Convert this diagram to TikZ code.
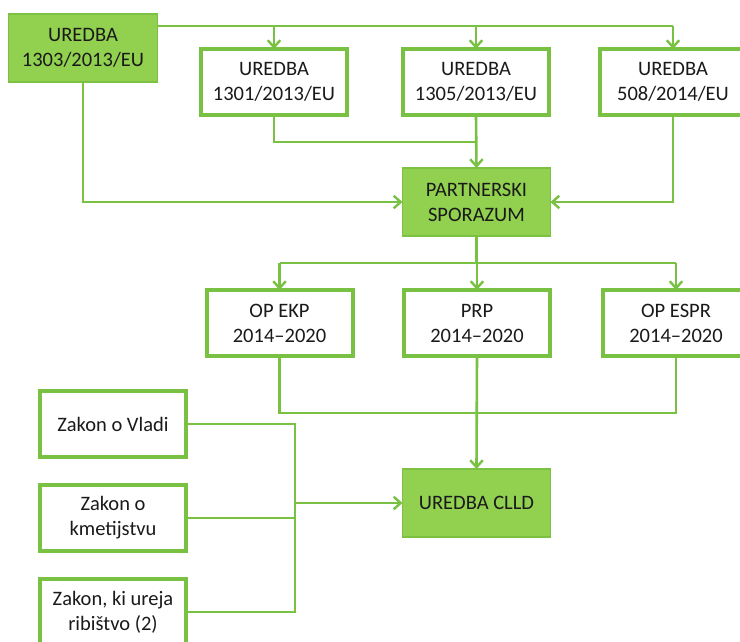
\documentclass[tikz,border=0pt]{standalone}
\usepackage{fontspec}
\setmainfont{Carlito}
\usetikzlibrary{arrows.meta}
\definecolor{lgreen}{HTML}{92D050}
\definecolor{lborder}{HTML}{7DC143}
\definecolor{lline}{HTML}{79C143}
\definecolor{txt}{HTML}{1A1A1A}
\begin{document}
\begin{tikzpicture}[x=1pt,y=-1pt,
  every node/.style={font=\fontsize{20.5}{25}\selectfont, text=txt, align=center, inner sep=0pt, outer sep=0pt},
  fillbox/.style={fill=lgreen, draw=lborder, line width=1.5pt, minimum width=#1, minimum height=68pt},
  whitebox/.style={fill=white, draw=lline, line width=4pt, minimum width=146pt, minimum height=#1},
  conn/.style={draw=lline, line width=2.6pt},
  arr/.style={conn, -{Straight Barb[length=7pt,width=12.5pt,line width=2.4pt]}}
]
\clip (0,0) rectangle (740,641);
\fill[white] (0,0) rectangle (740,641);
% nodes
\node[fillbox=149pt] (r1303) at (83,48) {UREDBA\\1303/2013/EU};
\node[whitebox=66pt] (r1301) at (274,82) {UREDBA\\1301/2013/EU};
\node[whitebox=66pt] (r1305) at (476,82) {UREDBA\\1305/2013/EU};
\node[whitebox=66pt] (r508) at (673,82) {UREDBA\\508/2014/EU};
\node[fillbox=148pt] (ps) at (476.5,202) {PARTNERSKI\\SPORAZUM};
\node[whitebox=66pt] (ekp) at (279.5,323) {OP EKP\\2014--2020};
\node[whitebox=66pt] (prp) at (477,323) {PRP\\2014--2020};
\node[whitebox=66pt] (espr) at (676,323) {OP ESPR\\2014--2020};
\node[fillbox=148pt] (clld) at (476.5,503) {UREDBA CLLD};
\node[whitebox=66pt] (vladi) at (113,424) {Zakon o Vladi};
\node[whitebox=66pt] (kmet) at (113,518) {Zakon o\\kmetijstvu};
\node[whitebox=66pt] (rib) at (113,612) {Zakon, ki ureja\\ribištvo (2)};
% coordinates
\coordinate (t) at (0,26);
\coordinate (m1) at (0,142);
\coordinate (m2) at (0,263);
\coordinate (m3) at (0,413);
\coordinate (bx) at (295,0);
% top distribution
\draw[conn] (r1303.east |- t) -- (r508.north |- t);
\draw[arr] (r1301.north |- t) -- (r1301.north);
\draw[arr] (r1305.north |- t) -- (r1305.north);
\draw[arr] (r508.north |- t) -- (r508.north);
% into partnerski
\draw[arr] (r1303.south) |- (ps.west);
\draw[arr] (r508.south) |- (ps.east);
\draw[conn] (r1301.south) |- (r1305.south |- m1);
\draw[arr] (r1305.south) -- (ps.north);
% from partnerski
\draw[conn] (ps.south) -- (ps.south |- m2);
\draw[conn] (ekp.north |- m2) -- (espr.north |- m2);
\draw[arr] (ekp.north |- m2) -- (ekp.north);
\draw[arr] (prp.north |- m2) -- (prp.north);
\draw[arr] (espr.north |- m2) -- (espr.north);
% into CLLD
\draw[conn] (ekp.south) |- (espr.south |- m3) -- (espr.south);
\draw[arr] (prp.south) -- (clld.north);
% laws
\draw[conn] (vladi.east) -| (bx |- rib.east) -- (rib.east);
\draw[conn] (kmet.east) -- (bx |- kmet.east);
\draw[arr] (bx |- clld.west) -- (clld.west);
\end{tikzpicture}
\end{document}
